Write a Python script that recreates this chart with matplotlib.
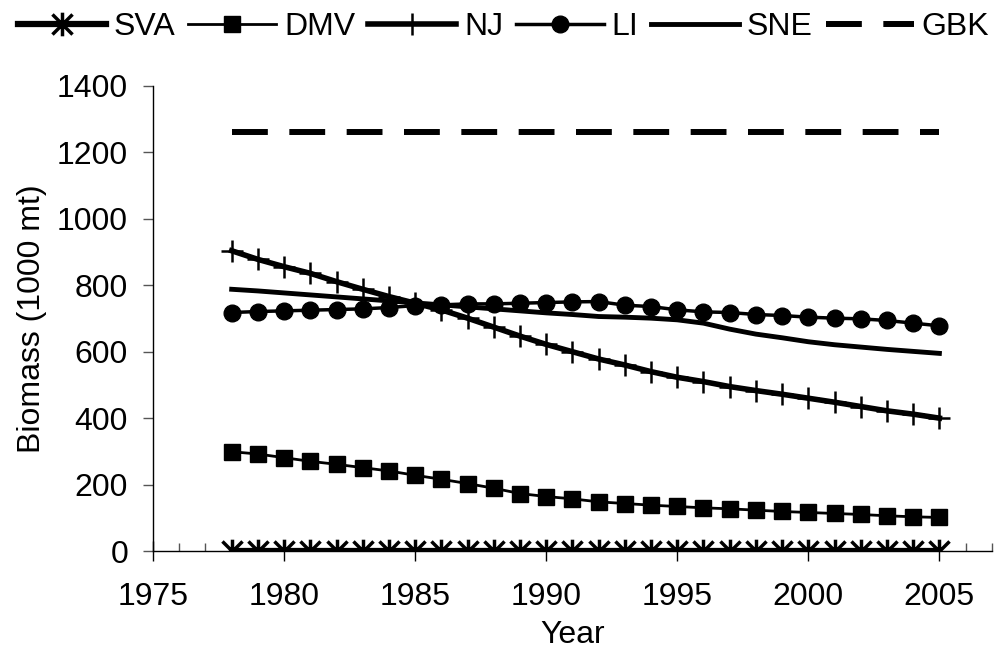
import numpy as np
import matplotlib.pyplot as plt
from matplotlib.path import Path
from matplotlib.ticker import MultipleLocator

plt.rcParams['font.family'] = ['Liberation Sans', 'DejaVu Sans']

years = list(range(1978, 2006))
sva = [0] * 28
dmv = [299, 292, 281, 270, 261, 251, 241, 228, 216, 203, 189, 173, 164, 157,
       148, 143, 138, 134, 130, 127, 123, 119, 116, 113, 110, 106, 103, 101]
nj = [904, 878, 856, 836, 811, 788, 766, 746, 726, 701, 674, 647, 622, 600,
      578, 560, 540, 523, 510, 495, 483, 472, 460, 448, 435, 422, 412, 400]
li = [718, 721, 723, 725, 727, 729, 733, 739, 741, 744, 744, 746, 748, 750,
      751, 740, 736, 726, 720, 718, 712, 709, 704, 701, 699, 694, 686, 678]
sne = [788, 783, 777, 771, 765, 759, 753, 747, 741, 735, 729, 723, 717, 712,
       706, 704, 701, 696, 686, 668, 653, 642, 630, 621, 614, 607, 601, 595]
gbk = [1262] * 28

# excel style asterisk: vertical bar + X
star = Path([(0, -1), (0, 1), (-0.85, -0.85), (0.85, 0.85), (-0.85, 0.85), (0.85, -0.85)],
            [Path.MOVETO, Path.LINETO, Path.MOVETO, Path.LINETO, Path.MOVETO, Path.LINETO])

fig = plt.figure(figsize=(9.95, 6.52), dpi=100)
ax = fig.add_axes([0.1538, 0.1549, 0.843, 0.7132])

ax.plot(years, sva, color='k', lw=4.5, marker=star, ms=17, mew=2.5,
        mfc='none', mec='k', label='SVA')
ax.plot(years, dmv, color='k', lw=2, marker='s', ms=12, label='DMV')
ax.plot(years, nj, color='k', lw=4, marker='+', ms=16, mew=1.8, label='NJ')
ax.plot(years, li, color='k', lw=2.5, marker='o', ms=12, label='LI')
ax.plot(years, sne, color='k', lw=3.5, label='SNE')
ax.plot(years, gbk, color='k', lw=4.3, linestyle=(0, (6, 3.6)), label='GBK')

ax.set_xlim(1975, 2007)
ax.set_ylim(0, 1400)
ax.xaxis.set_minor_locator(MultipleLocator(1))
ax.yaxis.set_major_locator(MultipleLocator(200))
ax.set_xticks([1975, 1980, 1985, 1990, 1995, 2000, 2005])

for s in ['top', 'right']:
    ax.spines[s].set_visible(False)
ax.spines['left'].set_linewidth(1)
ax.spines['bottom'].set_linewidth(1)

ax.tick_params(axis='x', which='major', direction='inout', length=14, width=1,
               labelsize=23, pad=15)
ax.tick_params(axis='x', which='minor', direction='in', length=6, width=1,
               color='#555555')
ax.tick_params(axis='y', which='major', direction='out', length=7, width=1,
               color='#555555', labelsize=23, pad=11)

ax.set_xlabel('Year', fontsize=23, labelpad=6)
ax.set_ylabel('Biomass (1000 mt)', fontsize=23)
ax.yaxis.set_label_coords(-0.126, 0.5)

fig.legend(loc='center left', bbox_to_anchor=(18 / 995, 1 - 27 / 652), ncol=6,
           frameon=False, fontsize=23, handlelength=2.75, handletextpad=0.25,
           columnspacing=0.4, borderaxespad=0, borderpad=0)

fig.savefig('out.png', dpi=100)
